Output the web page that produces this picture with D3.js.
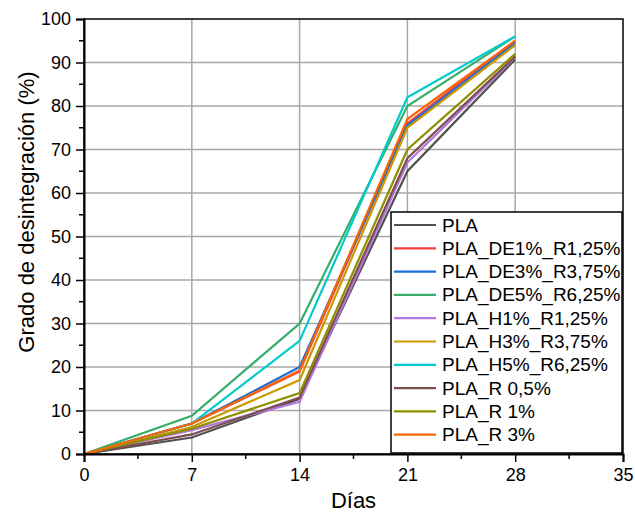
<!DOCTYPE html>
<meta charset="utf-8">
<script src="https://d3js.org/d3.v7.min.js"></script>
<style>
    body { margin: 0; background: #fff; }
</style>
<div id="chart"></div>
<script>
    // data
    var days = [0, 7, 14, 21, 28];
    var seriesNames = ["PLA", "PLA_DE1%_R1,25%", "PLA_DE3%_R3,75%", "PLA_DE5%_R6,25%",
        "PLA_H1%_R1,25%", "PLA_H3%_R3,75%", "PLA_H5%_R6,25%", "PLA_R 0,5%", "PLA_R 1%", "PLA_R 3%"];
    var pla     = [0, 3.8, 12.7, 65, 90.7];
    var de1     = [0, 7, 19, 76, 95];
    var de3     = [0, 7, 20, 75.5, 94.5];
    var de5     = [0, 8.8, 30, 80, 96];
    var h1      = [0, 5.5, 12, 67, 91.2];
    var h3      = [0, 6.2, 17, 75, 94];
    var h5      = [0, 7, 26, 82, 96];
    var r05     = [0, 4.5, 13, 68, 91.4];
    var r1      = [0, 5.8, 14, 70, 92];
    var r3      = [0, 7, 19.2, 77, 95];
    var seriesValues = [pla, de1, de3, de5, h1, h3, h5, r05, r1, r3];
    var colors = ["#515151", "#F14040", "#1A6FDF", "#37AD6B", "#B177DE",
        "#CC9900", "#00CBCC", "#7D4E4E", "#8E8E00", "#FB6501"];
    var xTicks = [0, 7, 14, 21, 28, 35];
    var yTicks = [0, 10, 20, 30, 40, 50, 60, 70, 80, 90, 100];

    var FONT = "'Liberation Sans'";
    var W = 635, H = 522;
    var margin = { top: 19, right: 12, bottom: 68, left: 84 },
        width = W - margin.left - margin.right,
        height = H - margin.top - margin.bottom;

    var svg = d3.select("#chart").append("svg")
        .attr("width", W).attr("height", H)
        .style("font-family", FONT);
    var g = svg.append("g")
        .attr("transform", "translate(" + margin.left + "," + margin.top + ")");

    var x = d3.scaleLinear().domain([0, 35]).range([0, width]);
    var y = d3.scaleLinear().domain([0, 100]).range([height, 0]);

    // grid
    g.append("g").selectAll("line").data(xTicks.slice(1, -1)).enter().append("line")
        .attr("x1", d => x(d)).attr("x2", d => x(d))
        .attr("y1", 0).attr("y2", height)
        .attr("stroke", "#a8a8a8").attr("stroke-width", 1.5);
    g.append("g").selectAll("line").data(yTicks.slice(1, -1)).enter().append("line")
        .attr("y1", d => y(d)).attr("y2", d => y(d))
        .attr("x1", 0).attr("x2", width)
        .attr("stroke", "#a8a8a8").attr("stroke-width", 1.5);

    // lines
    var line = d3.line()
        .x((d, i) => x(days[i]))
        .y(d => y(d));
    g.append("g").selectAll("path").data(seriesValues).enter().append("path")
        .attr("d", d => line(d))
        .attr("fill", "none")
        .attr("stroke", (d, i) => colors[i])
        .attr("stroke-width", 2.2)
        .attr("stroke-linejoin", "miter");

    // frame
    g.append("rect")
        .attr("x", 0).attr("y", 0).attr("width", width).attr("height", height)
        .attr("fill", "none").attr("stroke", "#000").attr("stroke-width", 1.5);

    // axes
    var minorX = d3.range(3.5, 35, 7);
    var minorY = d3.range(5, 100, 10);

    var xAxis = g.append("g").attr("transform", "translate(0," + height + ")");
    xAxis.call(d3.axisBottom(x).tickValues(xTicks).tickSize(8).tickPadding(6).tickFormat(d3.format("d")));
    xAxis.append("g").selectAll("line").data(minorX).enter().append("line")
        .attr("x1", d => x(d)).attr("x2", d => x(d)).attr("y1", 0).attr("y2", 5)
        .attr("stroke", "#000").attr("stroke-width", 1.5);

    var yAxis = g.append("g");
    yAxis.call(d3.axisLeft(y).tickValues(yTicks).tickSize(8).tickPadding(5).tickFormat(d3.format("d")));
    yAxis.append("g").selectAll("line").data(minorY).enter().append("line")
        .attr("y1", d => y(d)).attr("y2", d => y(d)).attr("x1", 0).attr("x2", -5)
        .attr("stroke", "#000").attr("stroke-width", 1.5);

    [xAxis, yAxis].forEach(function (a) {
        a.attr("font-family", null).attr("font-size", null);
        a.select(".domain").attr("stroke", "#000").attr("stroke-width", 2);
        a.selectAll(".tick line").attr("stroke", "#000").attr("stroke-width", 1.5);
        a.selectAll(".tick text").attr("fill", "#000")
            .style("font-size", "18px")
            .style("font-family", FONT);
    });

    // axis titles
    svg.append("text")
        .attr("x", margin.left + x(17.5)).attr("y", 508)
        .attr("text-anchor", "middle")
        .style("font-family", FONT).style("font-size", "22px")
        .text("Días");
    svg.append("text")
        .attr("transform", "translate(34,212) rotate(-90)")
        .attr("text-anchor", "middle")
        .style("font-family", FONT).style("font-size", "22px")
        .text("Grado de desintegración (%)");

    // legend
    var legend = svg.append("g").attr("transform", "translate(391,212)");
    legend.append("rect")
        .attr("width", 231).attr("height", 241)
        .attr("fill", "#fff").attr("stroke", "#000").attr("stroke-width", 1.5);
    var items = legend.selectAll("g.item").data(seriesNames).enter().append("g")
        .attr("class", "item")
        .attr("transform", (d, i) => "translate(0," + (13 + i * 23.3) + ")");
    items.append("line")
        .attr("x1", 3).attr("x2", 45)
        .attr("stroke", (d, i) => colors[i]).attr("stroke-width", 2.2);
    items.append("text")
        .attr("x", 51).attr("y", 6.5)
        .style("font-family", FONT).style("font-size", "19px")
        .text(d => d);
</script>
